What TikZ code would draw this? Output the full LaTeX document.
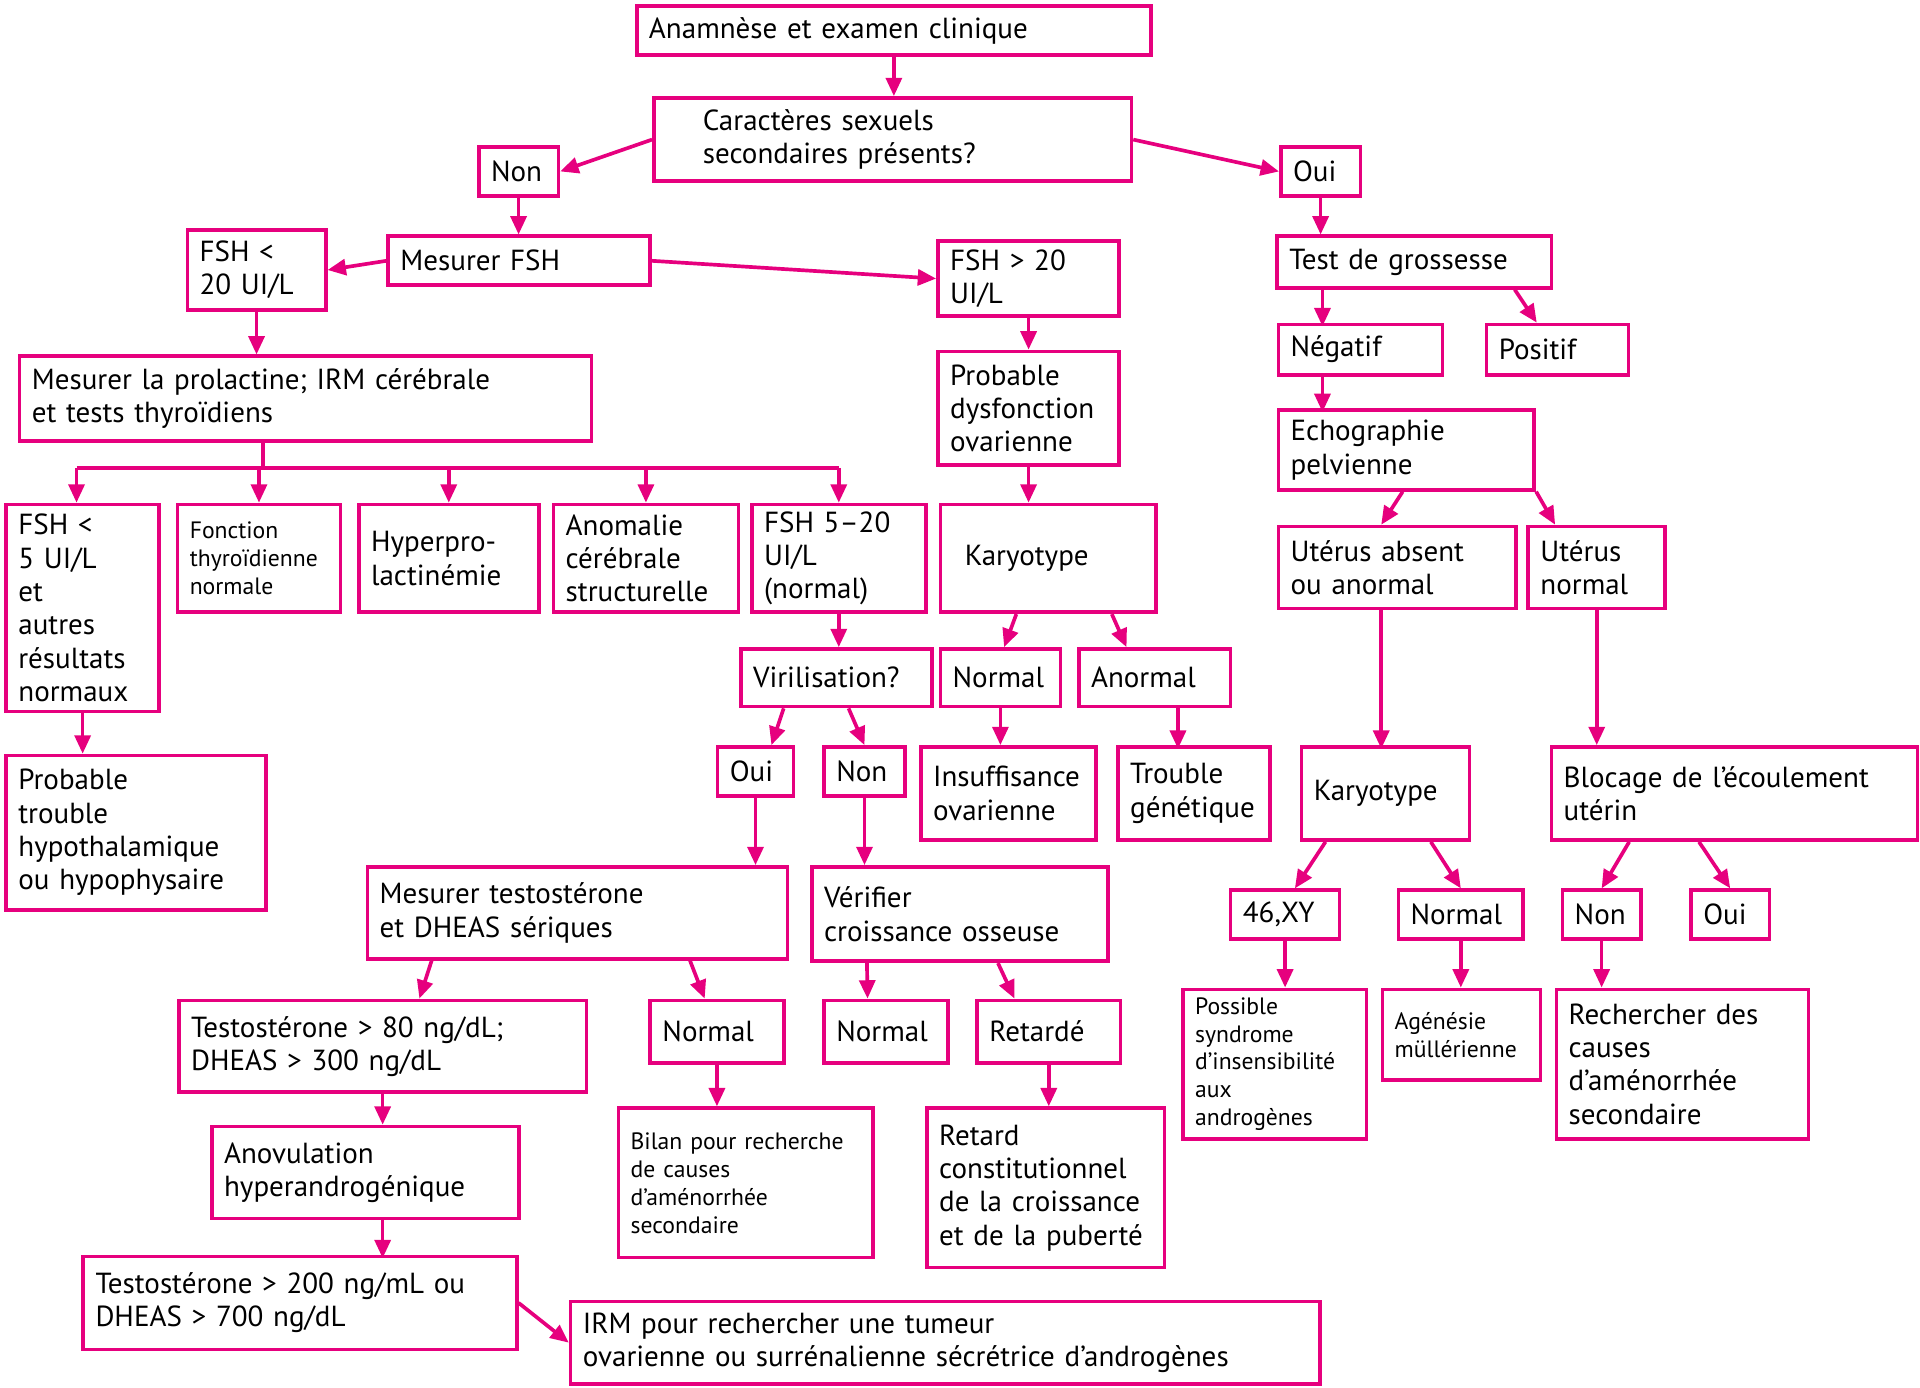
\documentclass[tikz,border=0pt]{standalone}
\usepackage{fontspec}
\setmainfont{PT Sans}
\usetikzlibrary{calc,arrows.meta}
\definecolor{pk}{RGB}{230,0,126}
\tikzset{
 bx/.style={draw=pk,line width=0.06cm,rectangle,align=left,inner xsep=0.2cm,inner ysep=1pt,
   font=\fontsize{13.5}{15.5}\selectfont},
 sm/.style={font=\fontsize{11}{13}\selectfont},
 ar/.style={draw=pk,line width=0.06cm,-{Triangle[length=0.3cm,width=0.26cm]}},
 ln/.style={draw=pk,line width=0.06cm}
}
\newcommand\bx[7][]{%
 \pgfmathsetmacro\bw{(#5-#3)*0.02}\pgfmathsetmacro\bh{(#6-#4)*0.02}\pgfmathsetmacro\tw{\bw-0.4}%
 \node[bx,minimum width=\bw cm,minimum height=\bh cm,text width=\tw cm,#1] (#2) at ({(#3+#5)/2},{(#4+#6)/2}) {#7};}
\begin{document}
\begin{tikzpicture}[x=0.02cm,y=-0.02cm]
\useasboundingbox (0,0) rectangle (1568,1133);
\bx{A}{520}{5}{940}{45}{Anamnèse et examen clinique}
\bx[inner xsep=0.4cm]{C}{544}{80}{914}{148}{\hspace*{0.4cm}Caractères sexuels\\\hspace*{0.4cm}secondaires présents?}
\bx{NonA}{391}{120}{456}{160}{Non}
\bx{OuiA}{1046}{120}{1111}{160}{Oui}
\bx{MFSH}{317}{193}{531}{233}{Mesurer FSH}
\bx{Flt}{153}{188}{266}{253}{FSH <\\20 UI/L}
\bx{Fgt}{766}{197}{914}{258}{FSH > 20\\UI/L}
\bx{Test}{1043}{193}{1267}{235}{Test de grossesse}
\bx{Neg}{1044}{265}{1178}{306}{Négatif}
\bx{Pos}{1214}{265}{1330}{306}{Positif}
\bx{Echo}{1044}{335}{1253}{400}{Echographie\\ pelvienne}
\bx{MProl}{16}{291}{483}{360}{Mesurer la prolactine; IRM cérébrale\\et tests thyroïdiens}
\bx{PDys}{766}{287}{914}{380}{Probable\\dysfonction\\ovarienne}
\bx{KA}{768}{412}{944}{500}{\hspace*{0.2cm}Karyotype}
\bx{UtAbs}{1044}{430}{1238}{497}{Utérus absent\\ou anormal}
\bx{UtNorm}{1248}{430}{1360}{497}{Utérus\\normal}
\bx{Ffive}{5}{412}{130}{581}{FSH <\\5 UI/L\\et\\autres\\résultats\\normaux}
\bx[sm,inner xsep=0.15cm]{Fonct}{145}{412}{278}{500}{Fonction\\thyroïdienne\\normale}
\bx{Hyper}{293}{412}{440}{500}{Hyperpro-\\lactinémie}
\bx{Anom}{452}{412}{603}{500}{Anomalie\\cérébrale\\structurelle}
\bx{Fnorm}{614}{412}{756}{500}{FSH 5–20\\UI/L\\(normal)}
\bx{Viril}{605}{530}{761}{577}{Virilisation?}
\bx{NormA}{768}{530}{866}{577}{Normal}
\bx{Anormal}{881}{530}{1005}{577}{Anormal}
\bx{PHyp}{5}{617}{217}{743}{Probable\\trouble\\hypothalamique\\ou hypophysaire}
\bx{OuiB}{586}{610}{648}{650}{Oui}
\bx{NonB}{673}{610}{739}{650}{Non}
\bx{Insuff}{752}{610}{895}{686}{Insuffisance\\ovarienne}
\bx{Trouble}{913}{610}{1037}{686}{Trouble\\génétique}
\bx{KB}{1063}{610}{1200}{686}{Karyotype}
\bx{Bloc}{1267}{610}{1566}{686}{Blocage de l'écoulement\\utérin}
\bx{MTesto}{300}{708}{643}{783}{Mesurer testostérone\\et DHEAS sériques}
\bx{Verif}{663}{708}{905}{785}{Vérifier\\croissance osseuse}
\bx{XY}{1005}{727}{1094}{767}{46,XY}
\bx{NormB}{1142}{727}{1244}{767}{Normal}
\bx{NonC}{1276}{727}{1340}{767}{Non}
\bx{OuiC}{1381}{727}{1445}{767}{Oui}
\bx{TestoA}{146}{817}{479}{892}{Testostérone > 80 ng/dL;\\DHEAS > 300 ng/dL}
\bx{NormC}{531}{817}{640}{868}{Normal}
\bx{NormD}{673}{817}{774}{868}{Normal}
\bx{Ret}{798}{817}{915}{868}{Retardé}
\bx[sm,inner xsep=0.15cm]{Poss}{966}{808}{1116}{930}{Possible\\syndrome\\d'insensibilité\\aux\\androgènes}
\bx[sm,inner xsep=0.15cm]{Agen}{1129}{808}{1258}{882}{Agénésie\\müllérienne}
\bx{Rech}{1271}{808}{1477}{930}{Rechercher des\\causes\\d'aménorrhée\\secondaire}
\bx{Anov}{173}{920}{424}{995}{Anovulation\\hyperandrogénique}
\bx[sm,inner xsep=0.1cm]{Bilan}{505}{905}{713}{1027}{Bilan pour recherche\\de causes\\d'aménorrhée\\secondaire}
\bx{RetC}{757}{905}{951}{1035}{Retard\\constitutionnel\\de la croissance\\et de la puberté}
\bx{TestoB}{68}{1026}{422}{1102}{Testostérone > 200 ng/mL ou\\DHEAS > 700 ng/dL}
\bx{IRM}{466}{1063}{1078}{1130}{IRM pour rechercher une tumeur\\ovarienne ou surrénalienne sécrétrice d'androgènes}
% arrows
\draw[ar] (A.south) -- (A.south |- C.north);
\draw[ar] (C.west) -- (NonA.east);
\draw[ar] (C.east) -- (OuiA.west);
\draw[ar] (NonA.south) -- (NonA.south |- MFSH.north);
\draw[ar] (MFSH.west) -- (Flt.east);
\draw[ar] (MFSH.east) -- (Fgt.west);
\draw[ar] (Flt.south) -- (Flt.south |- MProl.north);
\draw[ar] (Fgt.south) -- (Fgt.south |- PDys.north);
\draw[ar] (PDys.south) -- (PDys.south |- KA.north);
\coordinate (bus) at (0,382);
\draw[ln] ($(MProl.south)+(-34.5,0)$) -- ++(0,22);
\draw[ln] ($(Ffive.north |- bus)+(-5,0)$) -- (Fnorm.north |- bus);
\draw[ar] ($(Ffive.north |- bus)+(-5,0)$) -- ($(Ffive.north)+(-5,0)$);
\draw[ar] (Fonct.north |- bus) -- (Fonct.north);
\draw[ar] (Hyper.north |- bus) -- (Hyper.north);
\draw[ar] (Anom.north |- bus) -- (Anom.north);
\draw[ar] (Fnorm.north |- bus) -- (Fnorm.north);
\draw[ar] (Ffive.south) -- (Ffive.south |- PHyp.north);
\draw[ar] (Fnorm.south) -- (Fnorm.south |- Viril.north);
\draw[ar] ($(Viril.south)+(-43,0)$) -- ($(OuiB.north)+(13,0)$);
\draw[ar] ($(Viril.south)+(10,0)$) -- (NonB.north);
\draw[ar] ($(KA.south)+(-26,0)$) -- ($(NormA.north)+(3,0)$);
\draw[ar] ($(KA.south)+(52,0)$) -- ($(Anormal.north)+(-23,0)$);
\draw[ar] (NormA.south) -- (NormA.south |- Insuff.north);
\draw[ar] ($(Anormal.south)+(19,0)$) -- ++(0,33);
\draw[ar] (OuiB.south) -- (OuiB.south |- MTesto.north);
\draw[ar] (NonB.south) -- (NonB.south |- Verif.north);
\draw[ar] ($(MTesto.south)+(-119,0)$) -- ($(TestoA.north)+(30,0)$);
\draw[ar] ($(MTesto.south)+(92,0)$) -- ($(NormC.north)+(-10,0)$);
\draw[ar] ($(Verif.south)+(-76,0)$) -- ($(NormD.north)+(-15,0)$);
\draw[ar] ($(Verif.south)+(31,0)$) -- ($(Ret.north)+(-28,0)$);
\draw[ar] (TestoA.south) -- (TestoA.south |- Anov.north);
\draw[ar] (NormC.south) -- (NormC.south |- Bilan.north);
\draw[ar] (Ret.south) -- (Ret.south |- RetC.north);
\draw[ar] ($(Anov.south)+(14,0)$) -- ++(0,31);
\draw[ar] (TestoB.east) -- (IRM.west);
\draw[ar] (OuiA.south) -- (OuiA.south |- Test.north);
\draw[ar] ($(Test.south)+(-75,0)$) -- ++(0,30);
\draw[ar] ($(Test.south)+(82,0)$) -- ($(Pos.north)+(-17,0)$);
\draw[ar] ($(Neg.south)+(-31,0)$) -- ++(0,29);
\draw[ar] ($(Echo.south)+(-3,0)$) -- ($(UtAbs.north)+(-13,0)$);
\draw[ar] (Echo.south east) -- ($(UtNorm.north)+(-34,0)$);
\draw[ar] ($(UtAbs.south)+(-13,0)$) -- ++(0,113);
\draw[ar] (UtNorm.south) -- (UtNorm.south |- Bloc.north);
\draw[ar] ($(KB.south)+(-49,0)$) -- ($(XY.north)+(8,0)$);
\draw[ar] ($(KB.south)+(37,0)$) -- (NormB.north);
\draw[ar] (XY.south) -- (XY.south |- Poss.north);
\draw[ar] (NormB.south) -- (NormB.south |- Agen.north);
\draw[ar] ($(Bloc.south)+(-86,0)$) -- (NonC.north);
\draw[ar] ($(Bloc.south)+(-29,0)$) -- (OuiC.north);
\draw[ar] (NonC.south) -- (NonC.south |- Rech.north);
\end{tikzpicture}
\end{document}
